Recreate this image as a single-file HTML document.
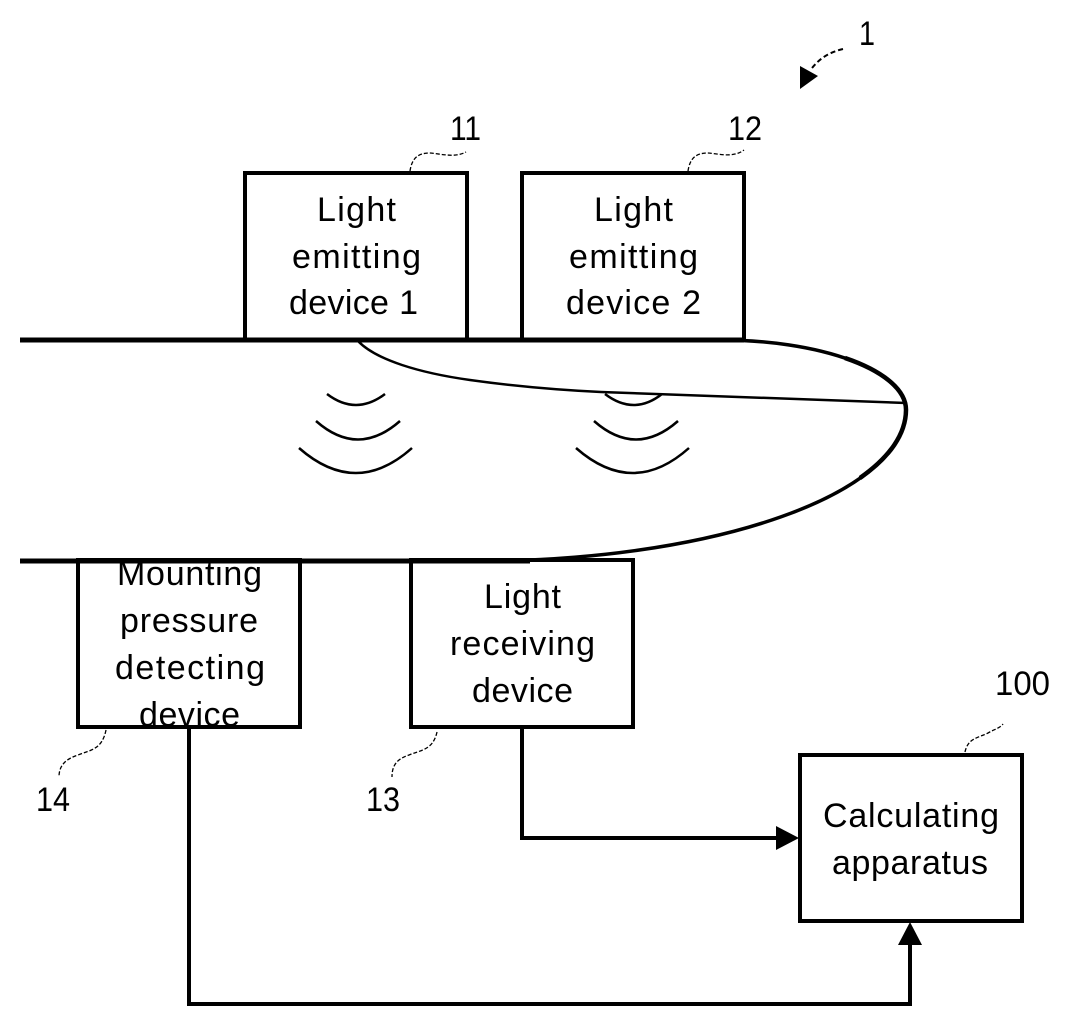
<!DOCTYPE html>
<html><head><meta charset="utf-8"><style>
html,body{margin:0;padding:0;background:#fff}
svg{display:block}
text{font-family:"Liberation Sans",sans-serif;font-size:34px;fill:#000}
</style></head><body>
<svg width="1070" height="1027" viewBox="0 0 1070 1027" xmlns="http://www.w3.org/2000/svg">
<rect width="1070" height="1027" fill="#fff"/>
<g fill="none" stroke="#000" stroke-width="4">
<rect x="245" y="173" width="222" height="167"/>
<rect x="522" y="173" width="222" height="167"/>
<rect x="78" y="560" width="222" height="167"/>
<rect x="411" y="560" width="222" height="167"/>
<rect x="800" y="755" width="222" height="166"/>
</g>
<text x="317" y="221" textLength="79">Light</text>
<text x="292" y="268" textLength="129">emitting</text>
<text x="289" y="314" textLength="129">device 1</text>
<text x="594" y="221" textLength="79">Light</text>
<text x="569" y="268" textLength="129">emitting</text>
<text x="566" y="314" textLength="135">device 2</text>
<text x="117" y="585" textLength="145">Mounting</text>
<text x="120" y="632" textLength="138">pressure</text>
<text x="115" y="679" textLength="150">detecting</text>
<text x="139" y="726" textLength="101">device</text>
<text x="484" y="608" textLength="77">Light</text>
<text x="450" y="655" textLength="145">receiving</text>
<text x="472" y="702" textLength="101">device</text>
<text x="823" y="827" textLength="176">Calculating</text>
<text x="832" y="874" textLength="156">apparatus</text>
<text x="859" y="45" textLength="16" lengthAdjust="spacingAndGlyphs">1</text>
<text x="450" y="140" textLength="31" lengthAdjust="spacingAndGlyphs">11</text>
<text x="728" y="140" textLength="34" lengthAdjust="spacingAndGlyphs">12</text>
<text x="995" y="695" textLength="55" lengthAdjust="spacingAndGlyphs">100</text>
<text x="36" y="811" textLength="34" lengthAdjust="spacingAndGlyphs">14</text>
<text x="366" y="811" textLength="34" lengthAdjust="spacingAndGlyphs">13</text>
<g fill="none" stroke="#000">
<path d="M20 340H744" stroke-width="5"/>
<path d="M20 561H530" stroke-width="5"/>
<path d="M720 340A186 70 0 0 1 906 410A426 151 0 0 1 480 561" stroke-width="3.5"/>
<path d="M845 358A186 70 0 0 1 906 410A426 151 0 0 1 860 478" stroke-width="4.5"/>
<path d="M358 341C376 360 420 373 470 380C520 387 560 390 601 392L906 403" stroke-width="2.5"/>
<path d="M327 394Q356 416 385 394M316 421Q358 458 400 421M299 448Q356 498 412 448" stroke-width="2.5"/>
<path d="M605 394Q634 416 662 394M594 421Q636 458 678 421M576 448Q633 498 689 448" stroke-width="2.5"/>
<path d="M189 727V1004H910V940" stroke-width="4"/>
<path d="M522 727V838H780" stroke-width="4"/>
<g stroke-width="1.3" stroke-dasharray="4 2">
<path d="M410 171C412 158 418 153 430 153C442 154 455 158 466 152"/>
<path d="M688 171C690 158 696 153 708 153C720 154 733 158 744 150"/>
<path d="M106 730C102 750 90 750 78 755C66 759 59 765 59 777"/>
<path d="M437 732C433 750 421 750 409 755C397 759 392 765 392 777"/>
<path d="M965 752C968 738 978 738 988 733C995 729 1000 728 1003 724"/>
</g>
<path d="M843 49C830 52 820 58 812 68" stroke-width="2" stroke-dasharray="5 3"/>
</g>
<polygon points="800,66 818,76 800,89"/>
<polygon points="799,838 776,826 776,850"/>
<polygon points="910,922 898,945 922,945"/>
</svg>
</body></html>
